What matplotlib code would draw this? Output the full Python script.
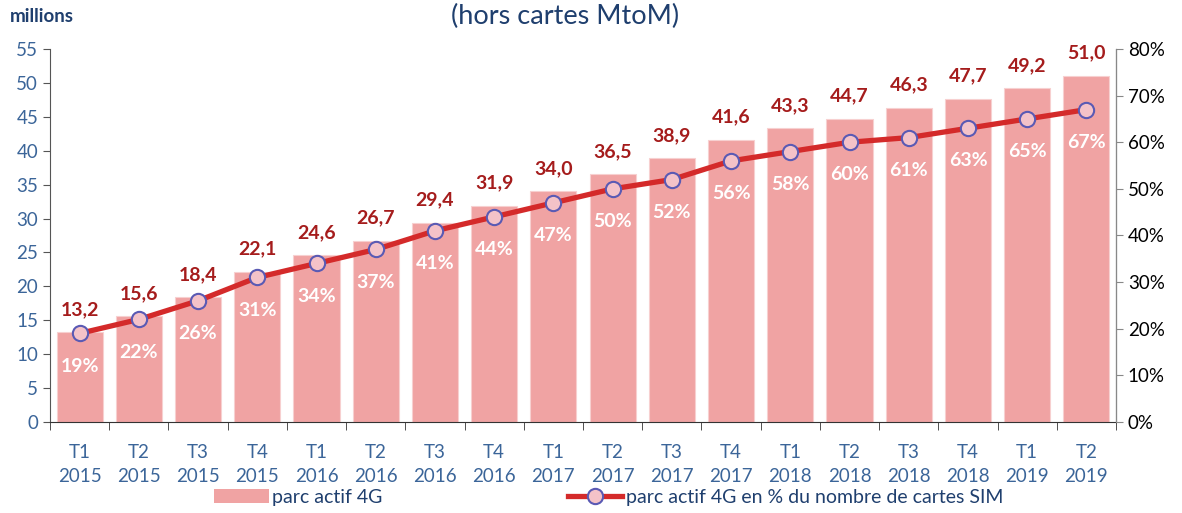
import matplotlib
matplotlib.use("Agg")
import matplotlib.pyplot as plt
import numpy as np
from matplotlib.lines import Line2D
from matplotlib.patches import Patch

quarters = ["T1", "T2", "T3", "T4", "T1", "T2", "T3", "T4", "T1", "T2", "T3", "T4",
            "T1", "T2", "T3", "T4", "T1", "T2"]
years = ["2015"] * 4 + ["2016"] * 4 + ["2017"] * 4 + ["2018"] * 4 + ["2019"] * 2
parc_4g = [13.2, 15.6, 18.4, 22.1, 24.6, 26.7, 29.4, 31.9, 34.0, 36.5, 38.9, 41.6,
           43.3, 44.7, 46.3, 47.7, 49.2, 51.0]
pct_4g = [19, 22, 26, 31, 34, 37, 41, 44, 47, 50, 52, 56, 58, 60, 61, 63, 65, 67]

plt.rcParams['font.family'] = ['Lato', 'DejaVu Sans']

BAR = "#F0A3A3"
LINE = "#D42A2A"
BLUE = "#3B6599"
DARK = "#1F3F6E"
DRED = "#A51C1C"

fig = plt.figure(figsize=(11.82, 5.13), dpi=100)
ax = fig.add_axes([50/1182, 1 - 422/513, (1116 - 50)/1182, (422 - 49)/513])
ax2 = ax.twinx()

x = np.arange(len(parc_4g))
ax.bar(x, parc_4g, width=0.78, color=BAR, edgecolor="#F7D0D0", linewidth=0.8, zorder=2)
ax.set_xlim(-0.5, len(parc_4g) - 0.5)
ax.set_ylim(0, 55)
ax.set_yticks(np.arange(0, 56, 5))
ax.tick_params(axis='y', labelsize=13.5, labelcolor=BLUE, color="#555555", length=5, direction='out')
ax.set_xticks(x)
ax.set_xticklabels([f"{q}\n{y}" for q, y in zip(quarters, years)], fontsize=13.5, color=BLUE, linespacing=1.45)
ax.tick_params(axis='x', length=0, pad=16)
ax.set_xticks(np.arange(-0.5, len(parc_4g)), minor=True)
ax.tick_params(axis='x', which='minor', length=6, color="#333333", direction='out')

for s in ['top']:
    ax.spines[s].set_visible(False)
    ax2.spines[s].set_visible(False)
ax.spines['left'].set_color("#555555")
ax.spines['bottom'].set_color("#333333")
ax2.spines['right'].set_color("#888888")
ax2.spines['left'].set_visible(False)
ax2.spines['bottom'].set_visible(False)

for xi, v in zip(x, parc_4g):
    ax.annotate(f"{v:.1f}".replace(".", ","), (xi, v), xytext=(0, 16.5), textcoords='offset points',
                ha='center', va='center', fontsize=14, fontweight='bold', color=DRED, zorder=5)

ax2.set_ylim(0, 80)
ax2.set_yticks(np.arange(0, 81, 10))
ax2.set_yticklabels([f"{t}%" for t in range(0, 81, 10)])
ax2.tick_params(axis='y', labelsize=13.5, labelcolor="black", color="#888888", length=5)
ax2.plot(x, pct_4g, color=LINE, linewidth=3.8, marker='o', markersize=11,
         markerfacecolor="#F4C2C8", markeredgecolor="#5A5AB4", markeredgewidth=1.5, zorder=4)
for xi, p in zip(x, pct_4g):
    ax2.annotate(f"{p}%", (xi, p), xytext=(0, -23.5), textcoords='offset points',
                 ha='center', va='center', fontsize=14, fontweight='bold', color="white", zorder=5)

fig.text(10/1182, 1 - 16/513, "millions", fontsize=13.5, fontweight='bold', color=DARK, va='center', ha='left')
fig.text(565/1182, 1 - 16/513, "(hors cartes MtoM)", fontsize=19.5, color=DARK, va='center', ha='center')

handles = [Patch(facecolor=BAR, edgecolor='none'),
           Line2D([0], [0], color=LINE, linewidth=3.8, marker='o', markersize=11,
                  markerfacecolor="#F4C2C8", markeredgecolor="#5A5AB4", markeredgewidth=1.5)]
leg = fig.legend(handles, ["parc actif 4G", "parc actif 4G en % du nombre de cartes SIM"],
                 loc='center', bbox_to_anchor=(0.515, 1 - 497/513), ncol=2, frameon=False,
                 fontsize=14, handlelength=2.8, handletextpad=0.2, columnspacing=9.5)
for t in leg.get_texts():
    t.set_color(DARK)

fig.savefig("out.png", dpi=100)
